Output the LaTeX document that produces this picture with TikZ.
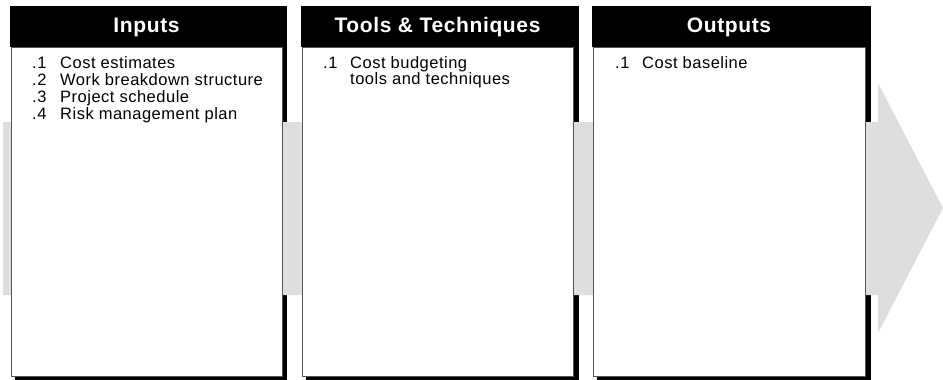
\documentclass[tikz,border=0pt]{standalone}
\usepackage{fontspec}
\setmainfont{Liberation Sans}
\newfontfamily\hdfont[LetterSpace=3]{Liberation Sans}
\newfontfamily\bdfont[LetterSpace=3]{Liberation Sans}
\definecolor{arrowgray}{RGB}{222,222,222}
\definecolor{edgegray}{RGB}{85,85,85}
\tikzset{
  shadowfill/.style={fill=black},
  arrowfill/.style={fill=arrowgray},
  bodybox/.style={fill=white, draw=edgegray, line width=0.9pt},
  headbar/.style={fill=black},
  headtext/.style={text=white, inner sep=0pt, font=\hdfont\bfseries\fontsize{21}{23}\selectfont},
  itemtext/.style={anchor=base west, inner sep=0pt, font=\bdfont\fontsize{16.5}{18}\selectfont},
}
\begin{document}
\begin{tikzpicture}[x=1pt,y=-1pt]
\useasboundingbox (0,0) rectangle (943,380);
% shadows
\fill[shadowfill] (15,6) rectangle (287,380);
\fill[shadowfill] (306,6) rectangle (579,380);
\fill[shadowfill] (597,6) rectangle (871,380);
% big process arrow
\fill[arrowfill] (3,122) -- (878,122) -- (878,83) -- (943,208) -- (878,333) -- (878,295) -- (3,295) -- cycle;
% bodies
\draw[bodybox] (11,47) rectangle (282,376);
\draw[bodybox] (302,47) rectangle (573,376);
\draw[bodybox] (593,47) rectangle (865,376);
% header bars
\fill[headbar] (10,6) rectangle (287,47);
\fill[headbar] (301,6) rectangle (579,47);
\fill[headbar] (592,6) rectangle (871,47);
% titles
\node[headtext] (tin) at (146.5,27) {Inputs};
\node[headtext] (ttt) at (437.5,27) {Tools \& Techniques};
\node[headtext] (tout) at (729,27) {Outputs};
% inputs list
\node[itemtext] (in1n) at (32,68) {.1};
\node[itemtext] (in1) at (60,68) {Cost estimates};
\node[itemtext] (in2n) at (32,85) {.2};
\node[itemtext] (in2) at (60,85) {Work breakdown structure};
\node[itemtext] (in3n) at (32,102) {.3};
\node[itemtext] (in3) at (60,102) {Project schedule};
\node[itemtext] (in4n) at (32,119) {.4};
\node[itemtext] (in4) at (60,119) {Risk management plan};
% tools list
\node[itemtext] (tt1n) at (323,68) {.1};
\node[itemtext] (tt1) at (350,68) {Cost budgeting};
\node[itemtext] (tt1b) at (350,84) {tools and techniques};
% outputs list
\node[itemtext] (out1n) at (615,68) {.1};
\node[itemtext] (out1) at (642,68) {Cost baseline};
\end{tikzpicture}
\end{document}
